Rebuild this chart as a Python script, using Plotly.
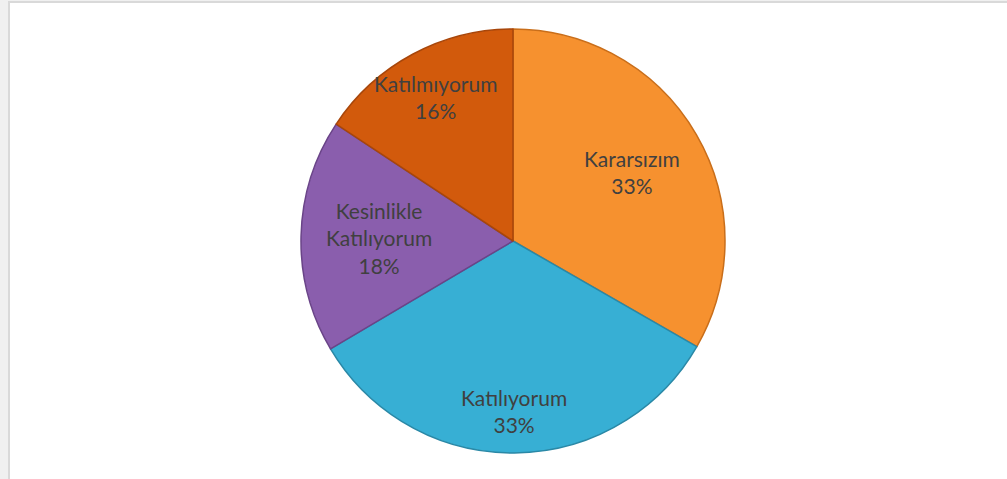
import math
import plotly.graph_objects as go

labels = ["Kararsızım", "Katılıyorum", "Kesinlikle<br>Katılıyorum", "Katılmıyorum"]
values = [33.3, 33.2, 17.8, 15.7]
colors = ["#F6912F", "#37AFD4", "#8A5EAD", "#D25A0C"]
edge_colors = ["#C96E1A", "#2A88A6", "#6A4488", "#A8460A"]
label_radius = [0.65, 0.80, 0.63, 0.77]  # fraction of pie radius for data labels

W, H = 1007, 479
cx_px, cy_px, r_px = 513, 241, 212

fig = go.Figure(go.Pie(
    labels=labels,
    values=values,
    sort=False,
    direction="clockwise",
    rotation=0,
    marker=dict(colors=colors, line=dict(color=edge_colors, width=1.5)),
    textinfo="none",
    hoverinfo="label+percent",
    showlegend=False,
    domain=dict(x=[(cx_px - r_px) / W, (cx_px + r_px) / W],
                y=[1 - (cy_px + r_px) / H, 1 - (cy_px - r_px) / H]),
))

total = sum(values)
annotations = []
cum = 0.0
for lab, v, f in zip(labels, values, label_radius):
    mid = (cum + v / 2) / total * 2 * math.pi
    cum += v
    x_px = cx_px + f * r_px * math.sin(mid)
    y_px = cy_px - f * r_px * math.cos(mid)
    annotations.append(dict(
        x=x_px / W, y=1 - y_px / H, xref="paper", yref="paper",
        text=f"{lab}<br>{round(v / total * 100)}%",
        showarrow=False, xanchor="center", yanchor="middle",
        font=dict(family="Lato, Carlito, sans-serif", size=21, color="#404040"),
    ))

fig.update_layout(
    width=W, height=H,
    margin=dict(l=0, r=0, t=0, b=0),
    paper_bgcolor="white",
    plot_bgcolor="white",
    annotations=annotations,
    shapes=[
        dict(type="rect", xref="paper", yref="paper", x0=0, x1=9/W, y0=0, y1=1,
             fillcolor="#F0F0F0", line=dict(width=0), layer="below"),
        dict(type="rect", xref="paper", yref="paper", x0=0, x1=1, y0=1-1/H, y1=1,
             fillcolor="#F0F0F0", line=dict(width=0), layer="below"),
        dict(type="line", xref="paper", yref="paper", x0=9/W, x1=9/W, y0=0, y1=1-1/H,
             line=dict(color="#D9D9D9", width=2)),
        dict(type="line", xref="paper", yref="paper", x0=9/W, x1=1, y0=1-2/H, y1=1-2/H,
             line=dict(color="#D9D9D9", width=2)),
    ],
)

fig.write_html("out.html", config={"displayModeBar": False},
               post_script="document.body.style.margin='0px';")
